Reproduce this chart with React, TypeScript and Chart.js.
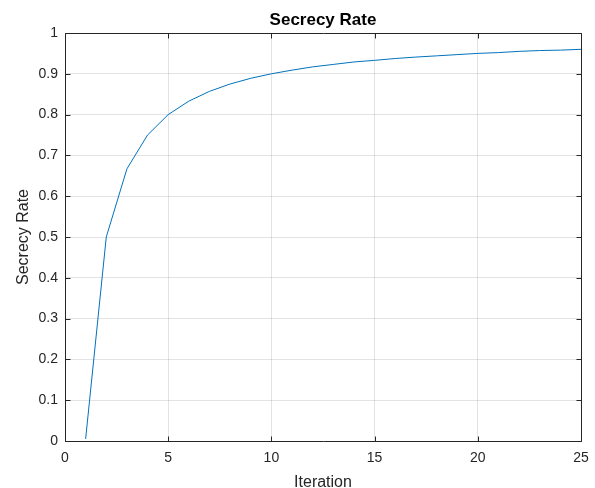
import React, { useEffect, useRef } from "react";
import { Chart, registerables } from "chart.js";

Chart.register(...registerables);

const iterations = [1, 2, 3, 4, 5, 6, 7, 8, 9, 10, 11, 12, 13, 14, 15, 16, 17, 18, 19, 20, 21, 22, 23, 24, 25];
const secrecyRate = [
  0.005, 0.5, 0.667, 0.75, 0.8, 0.833, 0.857, 0.875, 0.889, 0.9, 0.909, 0.917, 0.923,
  0.929, 0.933, 0.9375, 0.941, 0.944, 0.947, 0.95, 0.952, 0.955, 0.957, 0.958, 0.96,
];
const xTicks = [0, 5, 10, 15, 20, 25];
const yTicks = [0, 0.1, 0.2, 0.3, 0.4, 0.5, 0.6, 0.7, 0.8, 0.9, 1];
const titleText = "Secrecy Rate";
const xTitle = "Iteration";
const yTitle = "Secrecy Rate";

const FONT = "Arial, 'Liberation Sans', Helvetica, sans-serif";

const framePlugin = {
  id: "matlabFrame",
  afterDraw(chart: any) {
    const { ctx, chartArea } = chart;
    const { left, right, top, bottom } = chartArea;
    const xs = chart.scales.x;
    const ys = chart.scales.y;
    ctx.save();
    ctx.strokeStyle = "#262626";
    ctx.lineWidth = 1;
    const L = Math.round(left) + 0.5;
    const R = Math.round(right) + 0.5;
    const T = Math.round(top) + 0.5;
    const B = Math.round(bottom) + 0.5;
    ctx.beginPath();
    ctx.rect(L, T, R - L, B - T);
    const tl = 5;
    xTicks.forEach((v) => {
      const px = Math.round(xs.getPixelForValue(v)) + 0.5;
      ctx.moveTo(px, B);
      ctx.lineTo(px, B - tl);
      ctx.moveTo(px, T);
      ctx.lineTo(px, T + tl);
    });
    yTicks.forEach((v) => {
      const py = Math.round(ys.getPixelForValue(v)) + 0.5;
      ctx.moveTo(L, py);
      ctx.lineTo(L + tl, py);
      ctx.moveTo(R, py);
      ctx.lineTo(R - tl, py);
    });
    ctx.stroke();

    ctx.fillStyle = "#000000";
    ctx.font = `bold 17px ${FONT}`;
    ctx.textAlign = "center";
    ctx.textBaseline = "alphabetic";
    ctx.fillText(titleText, (left + right) / 2, 25);

    ctx.fillStyle = "#262626";
    ctx.font = `16px ${FONT}`;
    ctx.fillText(xTitle, (left + right) / 2, 487);

    ctx.translate(28, (top + bottom) / 2);
    ctx.rotate(-Math.PI / 2);
    ctx.fillText(yTitle, 0, 0);
    ctx.restore();
  },
};

export default function App() {
  const canvasRef = useRef<HTMLCanvasElement | null>(null);

  useEffect(() => {
    if (!canvasRef.current) return;
    const chart = new Chart(canvasRef.current, {
      type: "line",
      data: {
        datasets: [
          {
            data: iterations.map((x, i) => ({ x, y: secrecyRate[i] })),
            borderColor: "#0072BD",
            borderWidth: 1,
            pointRadius: 0,
            tension: 0,
            fill: false,
          },
        ],
      },
      options: {
        animation: false,
        responsive: false,
        maintainAspectRatio: false,
        layout: { padding: { top: 33, right: 14, left: 0, bottom: 0 } },
        plugins: {
          legend: { display: false },
          title: { display: false },
          tooltip: { enabled: false },
        },
        scales: {
          x: {
            type: "linear",
            min: 0,
            max: 25,
            afterBuildTicks: (scale: any) => {
              scale.ticks = xTicks.map((v) => ({ value: v }));
            },
            afterFit: (scale: any) => {
              scale.height = 47;
              scale.paddingLeft = 0;
              scale.paddingRight = 0;
            },
            ticks: {
              font: { family: FONT, size: 14 },
              color: "#262626",
              padding: 9,
              maxRotation: 0,
              callback: (v: any) => String(v),
            },
            grid: { color: "rgba(0,0,0,0.11)", drawTicks: false, lineWidth: 1 },
            border: { display: false },
          },
          y: {
            type: "linear",
            min: 0,
            max: 1,
            afterBuildTicks: (scale: any) => {
              scale.ticks = yTicks.map((v) => ({ value: v }));
            },
            afterFit: (scale: any) => {
              scale.width = 65;
              scale.paddingTop = 0;
              scale.paddingBottom = 0;
            },
            ticks: {
              font: { family: FONT, size: 14 },
              color: "#262626",
              padding: 7,
              callback: (v: any) => String(Number(Number(v).toFixed(1))),
            },
            grid: { color: "rgba(0,0,0,0.11)", drawTicks: false, lineWidth: 1 },
            border: { display: false },
          },
        },
      },
      plugins: [framePlugin],
    });
    return () => chart.destroy();
  }, []);

  return (
    <div style={{ position: "absolute", left: 0, top: 0, width: 595, height: 488, background: "#ffffff" }}>
      <canvas ref={canvasRef} width={595} height={488} style={{ display: "block" }} />
    </div>
  );
}
